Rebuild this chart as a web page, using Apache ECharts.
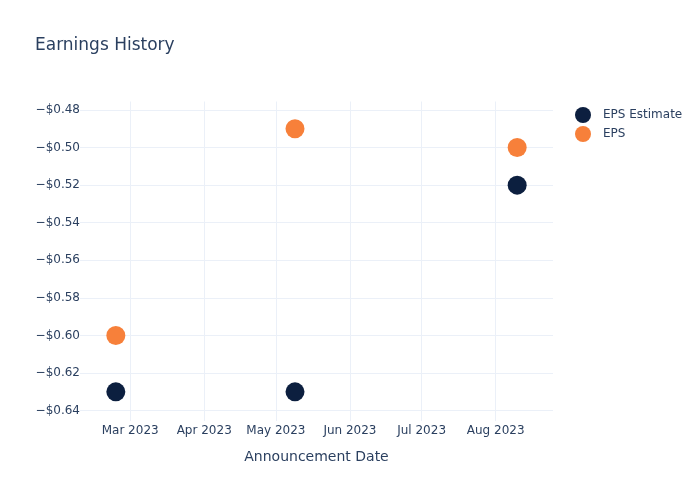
<!DOCTYPE html>
<html><head><meta charset="utf-8">
<script src="https://cdn.jsdelivr.net/npm/echarts@6/dist/echarts.min.js"></script>
<style>html,body{margin:0;padding:0;background:#fff}#c{width:700px;height:500px}</style>
</head><body><div id="c"></div>
<script>
const dates = ['2023-02-23', '2023-05-09', '2023-08-10'];
const epsEstimate = [-0.63, -0.63, -0.52];
const eps = [-0.60, -0.49, -0.50];
const yTicks = [-0.64, -0.62, -0.60, -0.58, -0.56, -0.54, -0.52, -0.50, -0.48];
const xTicks = ['2023-03-01', '2023-04-01', '2023-05-01', '2023-06-01', '2023-07-01', '2023-08-01'];
const monthNames = ['Jan','Feb','Mar','Apr','May','Jun','Jul','Aug','Sep','Oct','Nov','Dec'];
const ts = s => new Date(s + 'T00:00:00Z').getTime();
const xTickTs = xTicks.map(ts);
const font = 'DejaVu Sans, sans-serif';
const txt = '#2a3f5f';
const grid = '#ebf0f8';
const chart = echarts.init(document.getElementById('c'));
chart.setOption({
  animation: false,
  title: { text: 'Earnings History', left: 30, top: 32, textStyle: { fontFamily: font, fontSize: 17, fontWeight: 'normal', color: txt } },
  legend: { left: 570, top: 102, orient: 'vertical', icon: 'circle', itemWidth: 16, itemHeight: 16, itemGap: 3,
    textStyle: { fontFamily: font, fontSize: 12, color: txt, padding: [0, 0, 0, 7] }, data: ['EPS Estimate', 'EPS'] },
  grid: { left: 80, right: 147, top: 101.5, bottom: 79, containLabel: false },
  xAxis: {
    type: 'value', min: ts('2023-02-08'), max: ts('2023-08-25'),
    name: 'Announcement Date', nameLocation: 'middle', nameGap: 29,
    nameTextStyle: { fontFamily: font, fontSize: 14, color: txt },
    axisLine: { show: false },
    axisTick: { show: false, customValues: xTickTs },
    axisLabel: { customValues: xTickTs, fontFamily: font, fontSize: 12, color: txt, margin: 4,
      formatter: v => { const d = new Date(v); return monthNames[d.getUTCMonth()] + ' ' + d.getUTCFullYear(); } },
    splitLine: { show: true, lineStyle: { color: grid, width: 1 } }
  },
  yAxis: {
    type: 'value', min: -0.6455, max: -0.4755,
    axisLine: { show: false },
    axisTick: { show: false, customValues: yTicks },
    axisLabel: { customValues: yTicks, fontFamily: font, fontSize: 12, color: txt, margin: 0,
      formatter: v => (v < 0 ? '\u2212' : '') + '$' + Math.abs(v).toFixed(2) },
    splitLine: { show: true, lineStyle: { color: grid, width: 1 } }
  },
  series: [
    { name: 'EPS Estimate', type: 'scatter', symbolSize: 19, itemStyle: { color: '#0c1f3f', opacity: 1 },
      data: dates.map((d, i) => [ts(d), epsEstimate[i]]) },
    { name: 'EPS', type: 'scatter', symbolSize: 19, itemStyle: { color: '#f7803a', opacity: 1 },
      data: dates.map((d, i) => [ts(d), eps[i]]) }
  ]
});
</script></body></html>
